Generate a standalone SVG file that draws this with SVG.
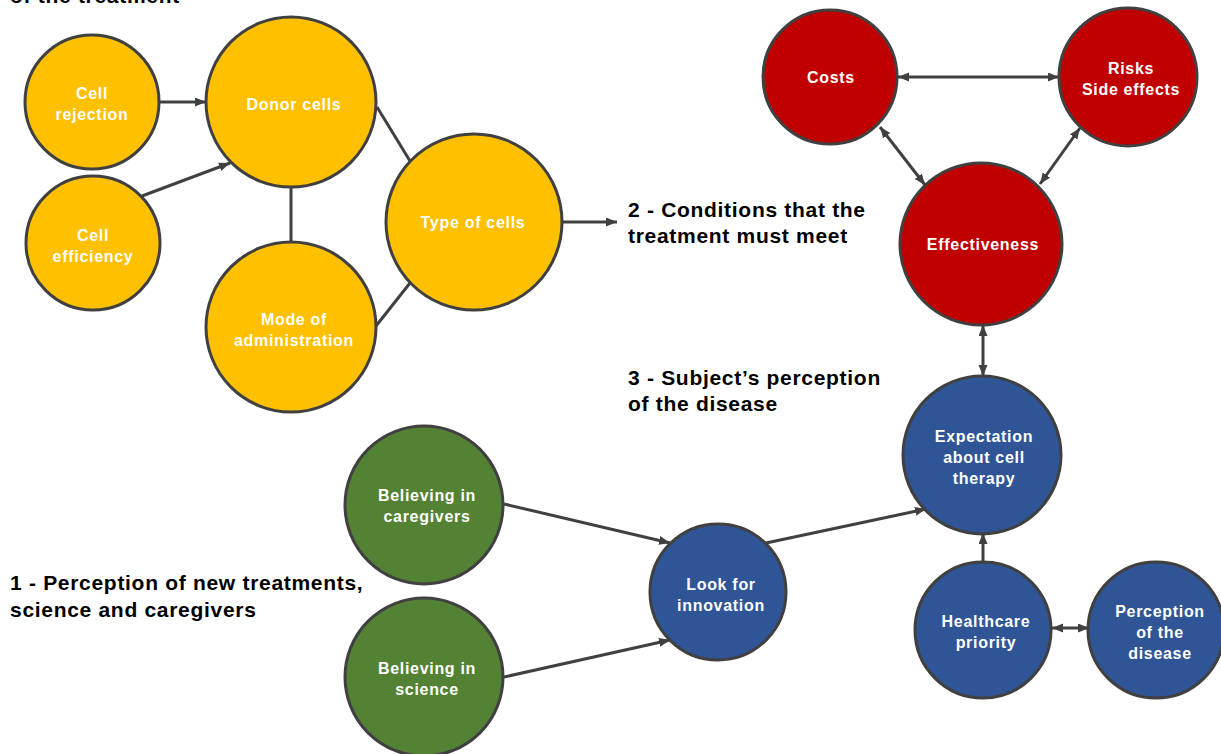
<svg xmlns="http://www.w3.org/2000/svg" width="1221" height="754" viewBox="0 0 1221 754">
<style>
.n{stroke:#404040;stroke-width:3}
.y{fill:#FFC000}.r{fill:#C00000}.b{fill:#2F5597}.g{fill:#548235}
.t{font-family:"Liberation Sans",Arial,sans-serif;font-weight:bold;font-size:16px;letter-spacing:0.7px;fill:#fff;text-anchor:middle}
.h{font-family:"Liberation Sans",Arial,sans-serif;font-weight:bold;font-size:21px;letter-spacing:0.7px;fill:#000}
.c{stroke:#404040;stroke-width:3;fill:none}
.a{marker-end:url(#ah)}
.d{marker-end:url(#ah);marker-start:url(#ah)}
</style>
<defs>
<marker id="ah" markerUnits="userSpaceOnUse" markerWidth="12" markerHeight="10" refX="11" refY="4.5" orient="auto-start-reverse" viewBox="0 0 12 10">
<path d="M0,0 L11,4.5 L0,9 z" fill="#404040"/>
</marker>
</defs>
<rect width="1221" height="754" fill="#fff"/>
<g id="labels">
<text class="h" x="10" y="3">of the treatment</text>
<text class="h" x="628" y="217">2 - Conditions that the</text>
<text class="h" x="628" y="243">treatment must meet</text>
<text class="h" x="628" y="385">3 - Subject’s perception</text>
<text class="h" x="628" y="411">of the disease</text>
<text class="h" x="10" y="590">1 - Perception of new treatments,</text>
<text class="h" x="10" y="617">science and caregivers</text>
</g>
<g id="connectors">
<line class="c a" x1="159" y1="102" x2="206" y2="102"/>
<line class="c a" x1="142" y1="196" x2="230" y2="163"/>
<line class="c" x1="291" y1="187" x2="291" y2="242"/>
<line class="c" x1="377" y1="107" x2="410" y2="161"/>
<line class="c" x1="376" y1="326" x2="410" y2="283"/>
<line class="c a" x1="562" y1="222" x2="617" y2="222"/>
<line class="c d" x1="898" y1="77" x2="1059" y2="77"/>
<line class="c d" x1="880" y1="127" x2="925" y2="185"/>
<line class="c d" x1="1080" y1="128" x2="1040" y2="184"/>
<line class="c d" x1="983" y1="325" x2="983" y2="376"/>
<line class="c a" x1="983" y1="563" x2="983" y2="533"/>
<line class="c d" x1="1052" y1="628" x2="1089" y2="628"/>
<line class="c a" x1="504" y1="504" x2="670" y2="543"/>
<line class="c a" x1="504" y1="677" x2="670" y2="640"/>
<line class="c a" x1="766" y1="543" x2="926" y2="509"/>
</g>
<g id="cell-rejection"><circle class="n y" cx="92" cy="102" r="67"/><text class="t" x="92" y="99">Cell</text><text class="t" x="92" y="120">rejection</text></g>
<g id="cell-efficiency"><circle class="n y" cx="93" cy="243" r="67"/><text class="t" x="93" y="241">Cell</text><text class="t" x="93" y="262">efficiency</text></g>
<g id="donor-cells"><circle class="n y" cx="291" cy="102" r="85"/><text class="t" x="294" y="110">Donor cells</text></g>
<g id="mode-of-administration"><circle class="n y" cx="291" cy="327" r="85"/><text class="t" x="294" y="325">Mode of</text><text class="t" x="294" y="346">administration</text></g>
<g id="type-of-cells"><circle class="n y" cx="474" cy="222" r="88"/><text class="t" x="473" y="228">Type  of cells</text></g>
<g id="costs"><circle class="n r" cx="830" cy="77" r="67"/><text class="t" x="831" y="83">Costs</text></g>
<g id="risks"><circle class="n r" cx="1128" cy="77" r="69"/><text class="t" x="1131" y="74">Risks</text><text class="t" x="1131" y="95">Side effects</text></g>
<g id="effectiveness"><circle class="n r" cx="981" cy="244" r="81"/><text class="t" x="983" y="250">Effectiveness</text></g>
<g id="expectation"><circle class="n b" cx="982" cy="455" r="79"/><text class="t" x="984" y="442">Expectation</text><text class="t" x="984" y="463">about cell</text><text class="t" x="984" y="484">therapy</text></g>
<g id="healthcare-priority"><circle class="n b" cx="983" cy="630" r="68"/><text class="t" x="986" y="627">Healthcare</text><text class="t" x="986" y="648">priority</text></g>
<g id="perception-of-the-disease"><circle class="n b" cx="1156" cy="630" r="68"/><text class="t" x="1160" y="617">Perception</text><text class="t" x="1160" y="638">of the</text><text class="t" x="1160" y="659">disease</text></g>
<g id="look-for-innovation"><circle class="n b" cx="718" cy="592" r="68"/><text class="t" x="721" y="590">Look for</text><text class="t" x="721" y="611">innovation</text></g>
<g id="believing-caregivers"><circle class="n g" cx="424" cy="505" r="79"/><text class="t" x="427" y="501">Believing in</text><text class="t" x="427" y="522">caregivers</text></g>
<g id="believing-science"><circle class="n g" cx="424" cy="677" r="79"/><text class="t" x="427" y="674">Believing in</text><text class="t" x="427" y="695">science</text></g>
</svg>
